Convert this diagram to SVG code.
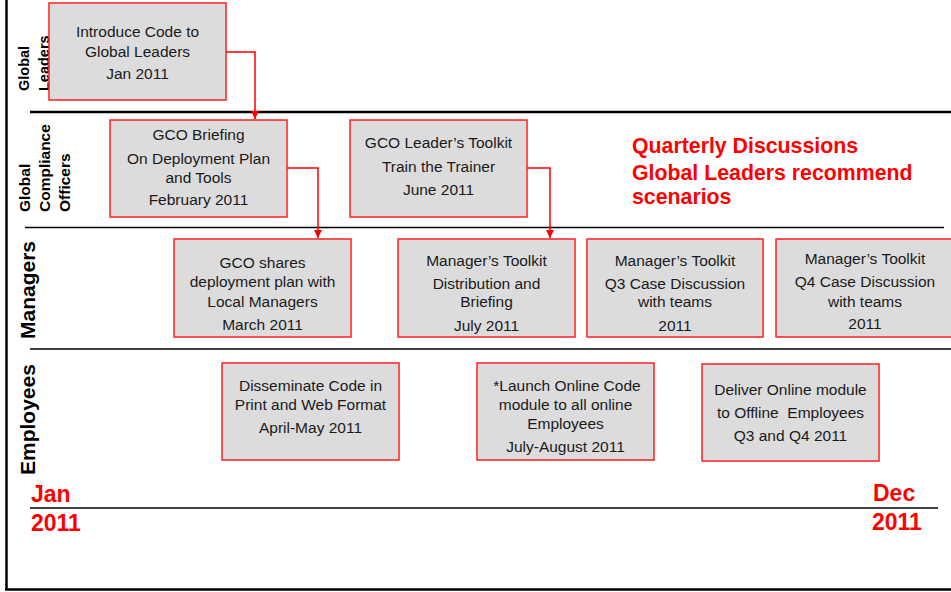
<svg xmlns="http://www.w3.org/2000/svg" width="951" height="592" viewBox="0 0 951 592">
<defs>
<style>
.box{fill:#dcdcdc;stroke:#ff2020;stroke-width:1.5}
.t{font-family:"Liberation Sans",Arial,sans-serif;font-size:15.5px;fill:#1a1a1a;text-anchor:middle}
.lane{font-family:"Liberation Sans",Arial,sans-serif;font-weight:bold;fill:#000}
.red{font-family:"Liberation Sans",Arial,sans-serif;font-weight:bold;fill:#ff0000}
.sep{stroke:#000;fill:none}
.conn{stroke:#ff0000;stroke-width:1.5;fill:none}
</style>
<marker id="ah" markerUnits="userSpaceOnUse" markerWidth="9" markerHeight="9" refX="8" refY="4" orient="auto">
<path d="M0,0 L8,4 L0,8 z" fill="#ff0000"/>
</marker>
</defs>
<rect width="951" height="592" fill="#fff"/>
<!-- frame and lane separators -->
<g id="frame">
<line class="sep" x1="6.5" y1="0" x2="6.5" y2="590" stroke-width="2.5"/>
<line class="sep" x1="5" y1="589.5" x2="951" y2="589.5" stroke-width="2.5"/>
<line class="sep" x1="30" y1="112" x2="951" y2="112" stroke-width="2.5"/>
<line class="sep" x1="25" y1="227.5" x2="944" y2="227.5" stroke-width="1.5"/>
<line class="sep" x1="30" y1="349" x2="951" y2="349" stroke-width="1.5"/>
<line class="sep" x1="30" y1="508" x2="938" y2="508" stroke-width="1.5"/>
</g>
<!-- lane labels -->
<g id="lane-labels">
<text class="lane" font-size="14.5" transform="translate(29,91) rotate(-90)">Global</text>
<text class="lane" font-size="14.5" transform="translate(48.5,91) rotate(-90)">Leaders</text>
<text class="lane" font-size="15.5" transform="translate(30,212) rotate(-90)">Global</text>
<text class="lane" font-size="15.5" transform="translate(49.5,212) rotate(-90)">Compliance</text>
<text class="lane" font-size="15.5" transform="translate(69.5,212) rotate(-90)">Officers</text>
<text class="lane" font-size="21" transform="translate(35,339) rotate(-90)">Managers</text>
<text class="lane" font-size="21" transform="translate(35,475) rotate(-90)">Employees</text>
</g>
<!-- connectors -->
<g id="connectors">
<path class="conn" d="M226,52 H255 V119" marker-end="url(#ah)"/>
<path class="conn" d="M287,168 H318 V238" marker-end="url(#ah)"/>
<path class="conn" d="M527,168 H550 V238" marker-end="url(#ah)"/>
</g>
<!-- nodes -->
<g id="n-introduce">
<rect class="box" x="49" y="3" width="177" height="97"/>
<text class="t" x="137.5" y="37">Introduce Code to</text>
<text class="t" x="137.5" y="57">Global Leaders</text>
<text class="t" x="137.5" y="79">Jan 2011</text>
</g>
<g id="n-gco-briefing">
<rect class="box" x="110" y="120" width="177" height="97"/>
<text class="t" x="198.5" y="140">GCO Briefing</text>
<text class="t" x="198.5" y="164">On Deployment Plan</text>
<text class="t" x="198.5" y="183">and Tools</text>
<text class="t" x="198.5" y="205">February 2011</text>
</g>
<g id="n-gco-toolkit">
<rect class="box" x="350" y="120" width="177" height="97"/>
<text class="t" x="438.5" y="148">GCO Leader’s Toolkit</text>
<text class="t" x="438.5" y="172">Train the Trainer</text>
<text class="t" x="438.5" y="195">June 2011</text>
</g>
<g id="n-quarterly">
<text class="red" font-size="21.3" x="632" y="153">Quarterly Discussions</text>
<text class="red" font-size="21.3" x="632" y="179.5">Global Leaders recommend</text>
<text class="red" font-size="21.3" x="632" y="204">scenarios</text>
</g>
<g id="n-gco-shares">
<rect class="box" x="174" y="239" width="177" height="98"/>
<text class="t" x="262.5" y="268">GCO shares</text>
<text class="t" x="262.5" y="287">deployment plan with</text>
<text class="t" x="262.5" y="307">Local Managers</text>
<text class="t" x="262.5" y="330">March 2011</text>
</g>
<g id="n-mgr-distribution">
<rect class="box" x="398" y="239" width="177" height="98"/>
<text class="t" x="486.5" y="266">Manager’s Toolkit</text>
<text class="t" x="486.5" y="289">Distribution and</text>
<text class="t" x="486.5" y="307">Briefing</text>
<text class="t" x="486.5" y="331">July 2011</text>
</g>
<g id="n-mgr-q3">
<rect class="box" x="587" y="239" width="176" height="98"/>
<text class="t" x="675" y="266">Manager’s Toolkit</text>
<text class="t" x="675" y="289">Q3 Case Discussion</text>
<text class="t" x="675" y="307">with teams</text>
<text class="t" x="675" y="331">2011</text>
</g>
<g id="n-mgr-q4">
<rect class="box" x="776" y="239" width="177" height="98"/>
<text class="t" x="865" y="264">Manager’s Toolkit</text>
<text class="t" x="865" y="287">Q4 Case Discussion</text>
<text class="t" x="865" y="307">with teams</text>
<text class="t" x="865" y="329">2011</text>
</g>
<g id="n-disseminate">
<rect class="box" x="222" y="363" width="177" height="97"/>
<text class="t" x="310.5" y="391">Disseminate Code in</text>
<text class="t" x="310.5" y="410">Print and Web Format</text>
<text class="t" x="310.5" y="433">April-May 2011</text>
</g>
<g id="n-launch">
<rect class="box" x="477" y="363" width="177" height="97"/>
<text class="t" x="567" y="391">*Launch Online Code</text>
<text class="t" x="565.5" y="410">module to all online</text>
<text class="t" x="565.5" y="429">Employees</text>
<text class="t" x="565.5" y="452">July-August 2011</text>
</g>
<g id="n-deliver">
<rect class="box" x="702" y="364" width="177" height="97"/>
<text class="t" x="790.5" y="395">Deliver Online module</text>
<text class="t" x="790.5" y="418" xml:space="preserve">to Offline  Employees</text>
<text class="t" x="790.5" y="441">Q3 and Q4 2011</text>
</g>
<g id="timeline">
<text class="red" font-size="23" x="31" y="502">Jan</text>
<text class="red" font-size="23" x="31" y="531">2011</text>
<text class="red" font-size="23" x="873" y="501">Dec</text>
<text class="red" font-size="23" x="872" y="530">2011</text>
</g>
</svg>
